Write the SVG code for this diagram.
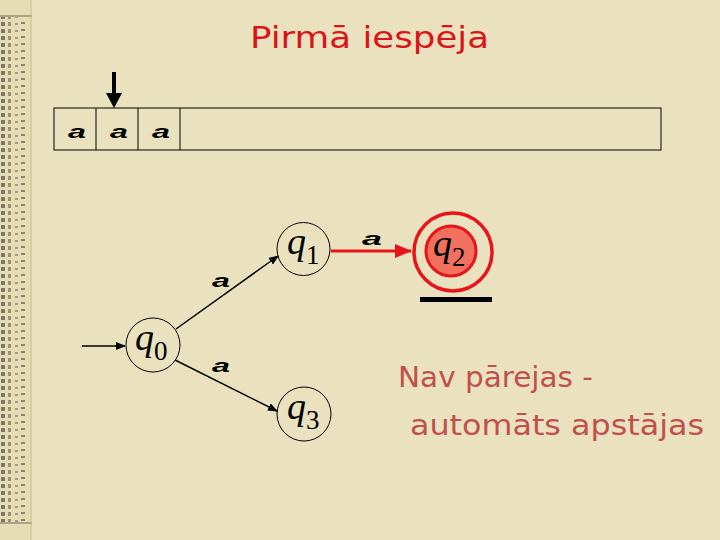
<svg xmlns="http://www.w3.org/2000/svg" width="720" height="540" viewBox="0 0 720 540">
<style>
.st{fill:none;stroke:#000;stroke-width:1}
.lbl{font-family:"Liberation Serif",serif;font-style:italic;font-size:38px;fill:#000}
.sub{font-size:27px;font-style:normal}
.a{font-family:"Liberation Sans",sans-serif;font-style:italic;font-weight:bold;font-size:19px;fill:#000}
.edge{stroke:#000;stroke-width:1.5;fill:none}
</style>
<defs>
<marker id="ah" markerWidth="10" markerHeight="8" refX="9" refY="4" orient="auto" markerUnits="userSpaceOnUse"><path d="M0,0 L10,4 L0,8 Z" fill="#000"/></marker>
<marker id="ahr" markerWidth="17" markerHeight="14" refX="16" refY="7" orient="auto" markerUnits="userSpaceOnUse"><path d="M0,0 L17,7 L0,14 Z" fill="#E8141C"/></marker>
<pattern id="strip" width="32" height="7" patternUnits="userSpaceOnUse">
<rect x="1" y="1" width="4" height="4" fill="#7d776a"/>
<rect x="8" y="1" width="3" height="4" fill="#9c8f7a"/>
<rect x="15" y="2" width="3" height="2" fill="#a49a86"/>
<rect x="21" y="1" width="4" height="2" fill="#8a8272"/>
</pattern>
</defs>
<rect width="720" height="540" fill="#EAE2BE"/>
<g id="strip-deco">
<rect x="0" y="0" width="32" height="540" fill="#E6DCB4"/>
<rect x="0" y="17" width="30" height="505" fill="url(#strip)"/>
<line x1="0" y1="16" x2="32" y2="16" stroke="#6e6a5e" stroke-width="1"/>
<line x1="0" y1="523" x2="32" y2="523" stroke="#6e6a5e" stroke-width="1"/>
<line x1="31" y1="0" x2="31" y2="540" stroke="#c9bd98" stroke-width="1"/>
</g>
<text x="250" y="48" textLength="239" lengthAdjust="spacingAndGlyphs" font-family="DejaVu Sans,sans-serif" font-size="30" fill="#DC1418">Pirmā iespēja</text>
<g id="tape">
<rect x="54" y="108" width="607" height="42" class="st"/>
<line x1="96" y1="108" x2="96" y2="150" class="st"/>
<line x1="138" y1="108" x2="138" y2="150" class="st"/>
<line x1="180" y1="108" x2="180" y2="150" class="st"/>
<text x="68" y="138" class="a" textLength="18" lengthAdjust="spacingAndGlyphs">a</text>
<text x="110" y="138" class="a" textLength="18" lengthAdjust="spacingAndGlyphs">a</text>
<text x="152" y="138" class="a" textLength="18" lengthAdjust="spacingAndGlyphs">a</text>
</g>
<g id="head">
<line x1="114" y1="72" x2="114" y2="94" stroke="#000" stroke-width="4"/>
<path d="M106,93 L122,93 L114,108 Z" fill="#000"/>
</g>
<g id="connectors">
<line x1="82" y1="346" x2="125" y2="346" class="edge" marker-end="url(#ah)"/>
<line x1="176" y1="329" x2="278" y2="256" class="edge" marker-end="url(#ah)"/>
<line x1="175" y1="360" x2="277" y2="411" class="edge" marker-end="url(#ah)"/>
<line x1="331" y1="251" x2="411" y2="251" stroke="#E8141C" stroke-width="3" marker-end="url(#ahr)"/>
<text x="212" y="287" class="a" textLength="18" lengthAdjust="spacingAndGlyphs">a</text>
<text x="212" y="372" class="a" textLength="18" lengthAdjust="spacingAndGlyphs">a</text>
<text x="362" y="245" class="a" textLength="20" lengthAdjust="spacingAndGlyphs">a</text>
</g>
<g id="q0">
<circle cx="153" cy="345" r="27" class="st"/>
<text x="135" y="350" class="lbl">q<tspan class="sub" dy="10">0</tspan></text>
</g>
<g id="q1">
<circle cx="303.5" cy="249" r="26.5" class="st"/>
<text x="287" y="254" class="lbl">q<tspan class="sub" dy="10">1</tspan></text>
</g>
<g id="q3">
<circle cx="304" cy="414" r="27" class="st"/>
<text x="287" y="419" class="lbl">q<tspan class="sub" dy="10">3</tspan></text>
</g>
<g id="q2">
<circle cx="453" cy="252" r="39" fill="none" stroke="#E8141C" stroke-width="3.5"/>
<circle cx="451" cy="251" r="25" fill="#F2705E" stroke="#E8141C" stroke-width="3"/>
<text x="433" y="256" class="lbl">q<tspan class="sub" dy="10">2</tspan></text>
</g>
<rect x="420" y="297" width="72" height="5" fill="#000"/>
<g id="note" font-family="DejaVu Sans,sans-serif" font-size="28" fill="#C0504D">
<text x="398" y="387" textLength="195" lengthAdjust="spacingAndGlyphs">Nav pārejas -</text>
<text x="410" y="435" textLength="294" lengthAdjust="spacingAndGlyphs">automāts apstājas</text>
</g>
</svg>
